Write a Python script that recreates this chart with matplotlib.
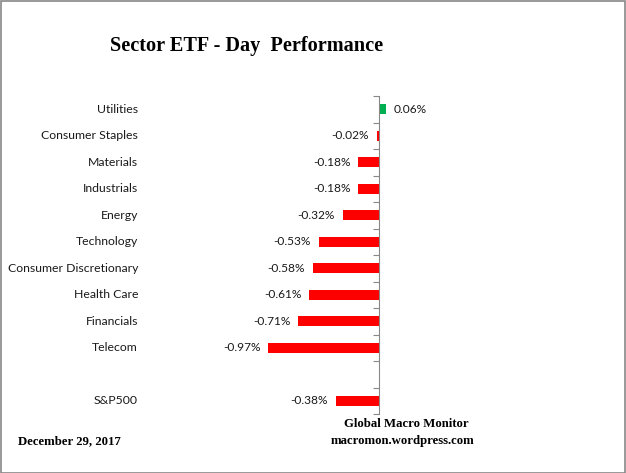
import numpy as np
import matplotlib.pyplot as plt
from matplotlib.transforms import blended_transform_factory

# Data (top to bottom), blank slot between Telecom and S&P500
sectors = ['Utilities', 'Consumer Staples', 'Materials', 'Industrials', 'Energy',
           'Technology', 'Consumer Discretionary', 'Health Care', 'Financials',
           'Telecom', '', 'S&P500']
changes = [0.06, -0.02, -0.18, -0.18, -0.32, -0.53, -0.58, -0.61, -0.71, -0.97,
           np.nan, -0.38]

W, H = 626, 473
fig = plt.figure(figsize=(W / 100, H / 100), dpi=100)

# Axes placed so that zero sits at x=379px, plot spans y=96..414px
left_px, right_px, zero_px = 150, 600, 379
px_per_pct = 114.0
ax = fig.add_axes([left_px / W, (H - 414) / H, (right_px - left_px) / W, (414 - 96) / H])
ax.set_xlim(-(zero_px - left_px) / px_per_pct, (right_px - zero_px) / px_per_pct)

y = np.arange(len(sectors))
vals = np.array(changes, dtype=float)
colors = ['#00B050' if v > 0 else '#FF0000' for v in np.nan_to_num(vals)]
ax.barh(y, np.nan_to_num(vals), height=0.38, color=colors)
ax.set_ylim(len(sectors) - 0.5, -0.5)

val_font = dict(family=['Lato', 'DejaVu Sans'], fontsize=8.6, color='#1a1a1a')
for yi, v in zip(y, vals):
    if np.isnan(v):
        continue
    if v >= 0:
        ax.annotate(f'{v:.2f}%', (v, yi), xytext=(5.5, 0), textcoords='offset points',
                    ha='left', va='center', **val_font)
    else:
        ax.annotate(f'{v:.2f}%', (v, yi), xytext=(-5.5, 0), textcoords='offset points',
                    ha='right', va='center', **val_font)

# category labels, right aligned at x=138px
cat_tr = blended_transform_factory(fig.transFigure, ax.transData)
for yi, s in zip(y, sectors):
    ax.text(138 / W, yi, s, transform=cat_tr, ha='right', va='center',
            family=['Lato', 'DejaVu Sans'], fontsize=8.8, color='#1a1a1a')

# axis styling: only the zero line with outward ticks at slot boundaries
for s in ['top', 'right', 'bottom']:
    ax.spines[s].set_visible(False)
ax.spines['left'].set_position(('data', 0))
ax.spines['left'].set_color('#888888')
ax.set_yticks(np.arange(-0.5, len(sectors), 1.0))
ax.set_yticklabels([])
ax.tick_params(axis='y', direction='out', length=4, color='#888888')
ax.set_xticks([])

serif = ['Liberation Serif', 'DejaVu Serif']
fig.text(247 / W, 1 - 46 / H, 'Sector ETF - Day  Performance', ha='center', va='center',
         family=serif, fontweight='bold', fontsize=14.6)
fig.text(18 / W, 1 - 441 / H, 'December 29, 2017', ha='left', va='center',
         family=serif, fontweight='bold', fontsize=9.2)
fig.text(406 / W, 1 - 424 / H, 'Global Macro Monitor', ha='center', va='center',
         family=serif, fontweight='bold', fontsize=9.2)
fig.text(403 / W, 1 - 441 / H, 'macromon.wordpress.com', ha='center', va='center',
         family=serif, fontweight='bold', fontsize=9.2)

# outer border
fig.patches.append(plt.Rectangle((0.001, 0.001), 0.997, 0.997, transform=fig.transFigure,
                                 fill=False, edgecolor='#888888', linewidth=1.2))

fig.savefig('out.png', dpi=100)
